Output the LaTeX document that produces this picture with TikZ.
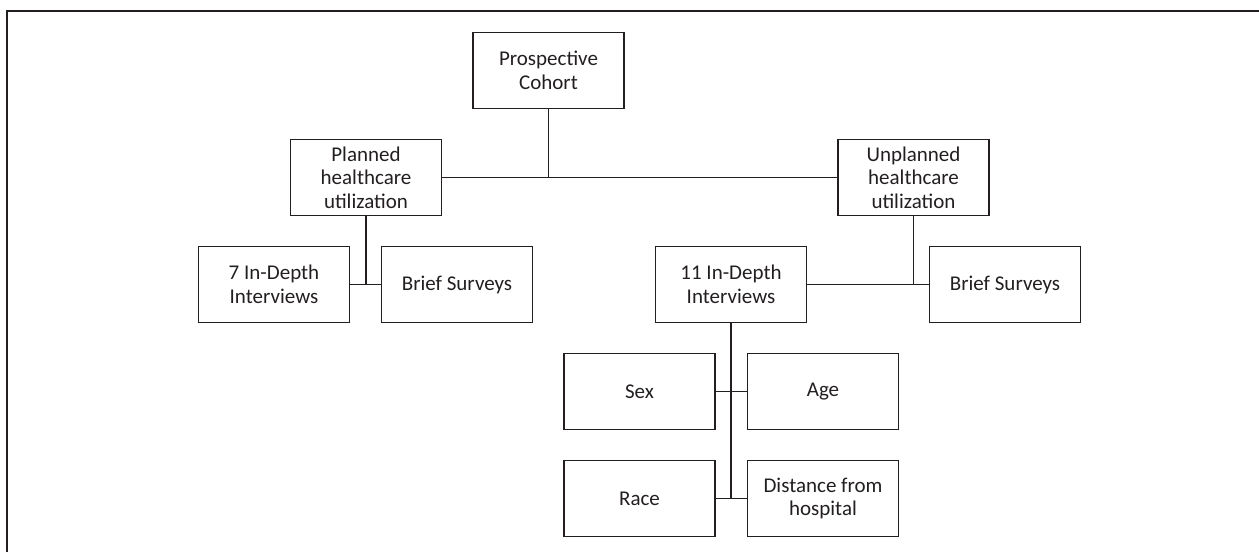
\documentclass[tikz,border=0pt]{standalone}
\usepackage{fontspec}
\setmainfont{Carlito}
\definecolor{ink}{HTML}{231F20}
\tikzset{
  box/.style={draw=ink, line width=1.8pt, minimum width=151pt, minimum height=76pt,
    inner sep=0pt, outer sep=0pt, align=center, text=ink,
    font=\fontsize{21pt}{23.5pt}\selectfont},
  conn/.style={draw=ink, line width=1.3pt},
  trunk/.style={draw=ink, line width=1.8pt},
  frame/.style={draw=ink, line width=1.8pt}
}
\begin{document}
\begin{tikzpicture}[x=1pt,y=-1pt]
\useasboundingbox (0,0) rectangle (1259,552);
\draw[frame] (7,552) -- (7,11) -- (1259,11);
\node[box] (coh) at (548.5,70.5) {Prospective\\Cohort};
\node[box] (plan) at (366,177.5) {Planned\\healthcare\\utilization};
\node[box] (unpl) at (913.5,177.5) {Unplanned\\healthcare\\utilization};
\node[box] (in7) at (274,284.5) {7 In-Depth\\Interviews};
\node[box] (bs1) at (457,284.5) {Brief Surveys};
\node[box] (in11) at (731,284.5) {11 In-Depth\\Interviews};
\node[box] (bs2) at (1005,284.5) {Brief Surveys};
\node[box] (sex) at (639.5,391.5) {Sex};
\node[box] (age) at (823,391.5) {Age};
\node[box] (race) at (639.5,498.5) {Race};
\node[box] (dist) at (823,498.5) {Distance from\\hospital};
\draw[trunk] (coh.south) -- (coh.south |- plan.east);
\draw[conn] (plan.east) -- (unpl.west);
\draw[conn] (plan.south) -- (plan.south |- in7.east);
\draw[conn] (in7.east) -- (bs1.west);
\draw[trunk] (unpl.south) -- (unpl.south |- bs2.west);
\draw[conn] (in11.east) -- (bs2.west);
\draw[conn] (in11.south) -- (in11.south |- race.east);
\draw[conn] (sex.east) -- (age.west);
\draw[conn] (race.east) -- (dist.west);
\end{tikzpicture}
\end{document}
